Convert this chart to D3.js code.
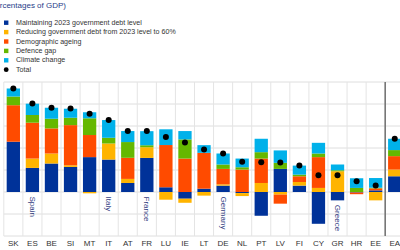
<!DOCTYPE html>
<html>
<head>
<meta charset="utf-8">
<script src="https://cdn.jsdelivr.net/npm/d3@7"></script>
<style>
  body { margin: 0; background: #fff; }
  text { font-family: "Liberation Sans", Arial, sans-serif; }
</style>
</head>
<body>
<div id="vis"></div>
<script>
// data (percentages of GDP)
let countries = ['SK', 'ES', 'BE', 'SI', 'MT', 'IT', 'AT', 'FR', 'LU', 'IE', 'LT', 'DE', 'NL', 'PT', 'LV', 'FI', 'CY', 'GR', 'HR', 'EE', 'EA'];
let maintainDebt = [4.57, 2.19, 2.59, 2.28, 3.17, 2.95, 0.82, 3.10, 0.43, -0.61, 0.30, 0.58, -0.10, -2.16, 2.10, 0.58, -2.89, -0.76, -0.05, 0.15, 1.43];
let reduceDebt = [0, 0.85, 0.91, 0.15, -0.12, 1.46, 0.37, 0.97, -0.70, -0.37, -0.33, 0.12, -0.27, 0.82, -0.24, 0.33, 0.37, 1.89, 0, -0.76, 0.61];
let ageing = [3.32, 3.26, 2.28, 3.65, 2.01, 0, 1.92, 0, 3.84, 3.04, 3.26, 1.40, 2.04, 2.22, -0.82, 0.52, 2.80, 0, -0.15, 0.18, 1.22];
let defence = [0.79, 0.70, 0.88, 0.67, 1.52, 0.52, 1.43, 0.18, 0, 1.74, 0, 0.40, 0.21, 0.58, 0.55, 0.15, 0.33, 0.09, 0.37, 0.06, 0.55];
let climate = [0.73, 1.03, 1.00, 0.82, 0.55, 1.61, 1.00, 1.28, 1.43, 0.76, 0.70, 1.00, 0.79, 1.22, 1.13, 0.82, 0.97, 0.52, 0.88, 0.88, 1.03];
let totals = [9.40, 8.04, 7.67, 7.58, 7.12, 6.54, 5.54, 5.54, 4.99, 4.51, 3.87, 3.50, 2.74, 2.71, 2.68, 2.40, 1.52, 1.52, 0.97, 0.58, 4.84];

let seriesNames = ['Maintaining 2023 government debt level', 'Reducing government debt from 2023 level to 60%', 'Demographic ageing', 'Defence gap', 'Climate change'];
let seriesColors = ['#003299', '#ffb400', '#ff4b00', '#65b800', '#00b1ea'];
let countryNames = { ES: 'Spain', IT: 'Italy', FR: 'France', DE: 'Germany', GR: 'Greece' };
let yTicks = [-4, -2, 0, 2, 4, 6, 8, 10];

let width = 400, height = 250;
let plot = { left: 3.8, right: 3.8 + 21 * 19.07, top: 82, bottom: 236 };

let svg = d3.select('#vis')
  .append('svg')
  .attr('width', width)
  .attr('height', height)
  .style('display', 'block');

// build rows for stacking
let keys = ['a', 'b', 'c', 'd', 'e'];
let rows = countries.map(function(c, i) {
  return { country: c, a: maintainDebt[i], b: reduceDebt[i], c: ageing[i], d: defence[i], e: climate[i] };
});

let x = d3.scaleBand()
  .domain(countries)
  .range([plot.left, plot.right])
  .paddingInner(0)
  .paddingOuter(0);

let y = d3.scaleLinear()
  .domain([-4, 10])
  .range([plot.bottom, plot.top]);

// gridlines
svg.append('g')
  .selectAll('line')
  .data(yTicks)
  .join('line')
  .attr('x1', plot.left)
  .attr('x2', plot.right)
  .attr('y1', d => y(d))
  .attr('y2', d => y(d))
  .attr('stroke', '#dedede')
  .attr('stroke-width', 1);

svg.append('g')
  .selectAll('line')
  .data(countries)
  .join('line')
  .attr('x1', d => x(d))
  .attr('x2', d => x(d))
  .attr('y1', plot.top)
  .attr('y2', plot.bottom)
  .attr('stroke', '#e4e4e4')
  .attr('stroke-width', 1);

// stacked bars
let stack = d3.stack().keys(keys).offset(d3.stackOffsetDiverging);
let layers = stack(rows);
let barW = 13.3;

svg.append('g')
  .selectAll('g')
  .data(layers)
  .join('g')
  .attr('fill', (d, i) => seriesColors[i])
  .selectAll('rect')
  .data(d => d)
  .join('rect')
  .attr('x', d => x(d.data.country) + (x.bandwidth() - barW) / 2)
  .attr('width', barW)
  .attr('y', d => y(Math.max(d[0], d[1])))
  .attr('height', d => Math.abs(y(d[0]) - y(d[1])));

// separator before euro area
svg.append('line')
  .attr('x1', x('EA'))
  .attr('x2', x('EA'))
  .attr('y1', plot.top)
  .attr('y2', plot.bottom)
  .attr('stroke', '#777')
  .attr('stroke-width', 1.6);

// total dots
svg.append('g')
  .selectAll('circle')
  .data(countries)
  .join('circle')
  .attr('cx', d => x(d) + x.bandwidth() / 2)
  .attr('cy', (d, i) => y(totals[i]))
  .attr('r', 3)
  .attr('fill', '#000');

// country names under the bars
svg.append('g')
  .selectAll('text')
  .data(countries.filter(c => countryNames[c]))
  .join('text')
  .attr('transform', function(d) {
    let r = rows[countries.indexOf(d)];
    let neg = keys.reduce((s, k) => s + Math.min(0, r[k]), 0);
    return 'translate(' + (x(d) + x.bandwidth() / 2) + ',' + (y(neg) + 4.5) + ') rotate(90)';
  })
  .attr('dominant-baseline', 'central')
  .attr('font-size', 8)
  .attr('fill', '#33407f')
  .text(d => countryNames[d]);

// x axis labels
svg.append('g')
  .selectAll('text')
  .data(countries)
  .join('text')
  .attr('x', d => x(d) + x.bandwidth() / 2)
  .attr('y', 246)
  .attr('text-anchor', 'middle')
  .attr('font-size', 8)
  .attr('fill', '#333')
  .text(d => d);

// title (cut off at the left as in the source)
svg.append('text')
  .attr('x', 66)
  .attr('y', 8)
  .attr('text-anchor', 'end')
  .attr('font-size', 8)
  .attr('fill', '#1f3c88')
  .text('(percentages of GDP)');

// legend
let legendItems = seriesNames.map((n, i) => ({ name: n, color: seriesColors[i], dot: false }))
  .concat([{ name: 'Total', color: '#000', dot: true }]);

let legend = svg.append('g')
  .selectAll('g')
  .data(legendItems)
  .join('g')
  .attr('transform', (d, i) => 'translate(4,' + (22.7 + i * 9.4) + ')');

legend.filter(d => !d.dot)
  .append('rect')
  .attr('x', 0)
  .attr('y', -2.2)
  .attr('width', 4.4)
  .attr('height', 4.4)
  .attr('fill', d => d.color);

legend.filter(d => d.dot)
  .append('circle')
  .attr('cx', 2.2)
  .attr('cy', 0)
  .attr('r', 2.4)
  .attr('fill', '#000');

legend.append('text')
  .attr('x', 12)
  .attr('y', 0)
  .attr('dominant-baseline', 'central')
  .attr('font-size', 7.1)
  .attr('fill', '#333')
  .text(d => d.name);
</script>
</body>
</html>
